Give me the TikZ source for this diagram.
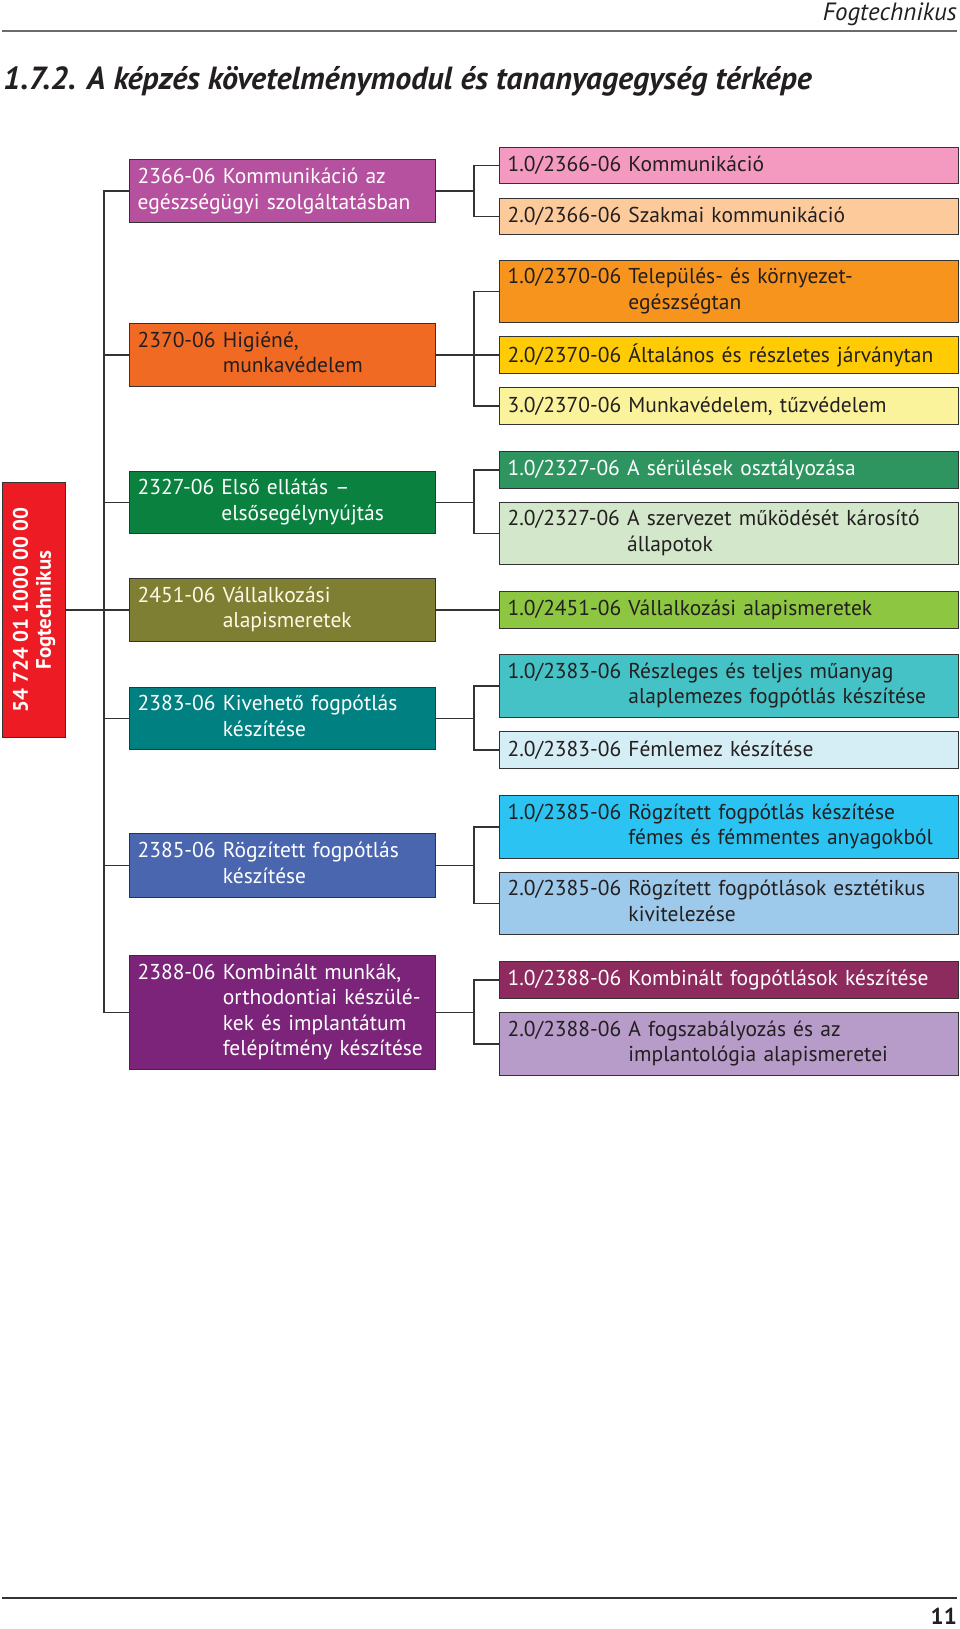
\documentclass[tikz,border=0pt]{standalone}
\usepackage{fontspec}
\setmainfont{PT Sans}
\definecolor{linec}{HTML}{333333}
\definecolor{txt}{HTML}{231F20}
\definecolor{cLa}{HTML}{B6519F}
\definecolor{cLb}{HTML}{F06A24}
\definecolor{cLc}{HTML}{0B8140}
\definecolor{cLd}{HTML}{7F7F34}
\definecolor{cLe}{HTML}{008080}
\definecolor{cLf}{HTML}{4A66AF}
\definecolor{cLg}{HTML}{7B2479}
\definecolor{cRed}{HTML}{ED1C24}
\definecolor{cAa}{HTML}{F49AC1}
\definecolor{cAb}{HTML}{FDCB9B}
\definecolor{cBa}{HTML}{F7941E}
\definecolor{cBb}{HTML}{FFCB05}
\definecolor{cBc}{HTML}{FBF39C}
\definecolor{cCa}{HTML}{2E9560}
\definecolor{cCb}{HTML}{D3E7CA}
\definecolor{cDa}{HTML}{8DC641}
\definecolor{cEa}{HTML}{44C2C6}
\definecolor{cEb}{HTML}{D5EDF4}
\definecolor{cFa}{HTML}{2BC4F2}
\definecolor{cFb}{HTML}{9DC9EA}
\definecolor{cGa}{HTML}{8D2B5E}
\definecolor{cGb}{HTML}{B79BC9}
\definecolor{cream}{HTML}{FFFBE6}
\newcommand\boxfont{\fontsize{21.5}{25.5}\selectfont}
\newcommand\hangtwo[3]{\begin{tabular}{@{}l@{\ }l@{}}#1&#2\\&#3\end{tabular}}
\tikzset{
  bx/.style={draw=linec, line width=1.2pt, anchor=north west, inner xsep=8pt, inner ysep=0pt, align=left, font=\boxfont, text=txt},
  lbox/.style={bx, minimum width=306pt, text width=290pt},
  rbox/.style={bx, minimum width=459pt, text width=443pt},
  conn/.style={draw=linec, line width=1.3pt},
}
\begin{document}
\begin{tikzpicture}[x=1pt,y=-1pt]
\useasboundingbox (0,0) rectangle (960,1629);
% header
\node[anchor=base east, inner sep=0, font=\fontsize{25}{28}\selectfont\itshape, text=txt] (hdr) at (957,21) {Fogtechnikus};
\draw[draw=black!58, line width=2pt] (2,31) coordinate (hl) -- (957,31) coordinate (hr);
\node[anchor=base west, inner sep=0, text=txt] (title) at (3,90) {\fontsize{32}{38}\selectfont\bfseries\itshape 1.7.2. A képzés követelménymodul és tananyagegység térképe};
% footer
\draw[draw=linec, line width=1.5pt] (2,1598) coordinate (fl) -- (957,1598) coordinate (fr);
\node[anchor=base east, inner sep=0, font=\fontsize{23}{26}\selectfont\bfseries, text=txt] (pg) at (957,1624) {11};

% red box
\node[draw=linec, line width=1.2pt, fill=cRed, anchor=north west, minimum width=63pt, minimum height=255pt, inner sep=0] (R) at (2,482) {};
\node[rotate=90, align=center, text=white, font=\fontsize{21}{23}\selectfont\bfseries, inner sep=0] (Rt) at (R.center) {54 724 01 1000 00 00\\Fogtechnikus};

% left boxes
\node[lbox, fill=cLa, minimum height=63pt, text=white] (L1) at (129,159) {2366-06 Kommunikáció az\\egészségügyi szolgáltatásban};
\node[lbox, fill=cLb, minimum height=63pt] (L2) at (129,323) {\hangtwo{2370-06}{Higiéné,}{munkavédelem}};
\node[lbox, fill=cLc, minimum height=62pt, text=white] (L3) at (129,471) {\hangtwo{2327-06}{Első ellátás –}{elsősegélynyújtás}};
\node[lbox, fill=cLd, minimum height=63pt, text=cream] (L4) at (129,578) {\hangtwo{2451-06}{Vállalkozási}{alapismeretek}};
\node[lbox, fill=cLe, minimum height=62pt, text=white] (L5) at (129,687) {\hangtwo{2383-06}{Kivehető fogpótlás}{készítése}};
\node[lbox, fill=cLf, minimum height=64pt, text=white] (L6) at (129,833) {\hangtwo{2385-06}{Rögzített fogpótlás}{készítése}};
\node[lbox, fill=cLg, minimum height=114pt, text=white] (L7) at (129,955) {\begin{tabular}{@{}l@{\ }l@{}}2388-06&Kombinált munkák,\\&orthodontiai készülé-\\&kek és implantátum\\&felépítmény készítése\end{tabular}};

% right boxes
\node[rbox, fill=cAa, minimum height=36pt] (A1) at (499,147) {1.0/2366-06 Kommunikáció};
\node[rbox, fill=cAb, minimum height=36pt] (A2) at (499,198) {2.0/2366-06 Szakmai kommunikáció};
\node[rbox, fill=cBa, minimum height=62pt] (B1) at (499,260) {\hangtwo{1.0/2370-06}{Település- és környezet-}{egészségtan}};
\node[rbox, fill=cBb, minimum height=37pt] (B2) at (499,336) {2.0/2370-06 Általános és részletes járványtan};
\node[rbox, fill=cBc, minimum height=37pt] (B3) at (499,387) {3.0/2370-06 Munkavédelem, tűzvédelem};
\node[rbox, fill=cCa, minimum height=37pt, text=white] (C1) at (499,451) {1.0/2327-06 A sérülések osztályozása};
\node[rbox, fill=cCb, minimum height=62pt] (C2) at (499,502) {\hangtwo{2.0/2327-06}{A szervezet működését károsító}{állapotok}};
\node[rbox, fill=cDa, minimum height=37pt] (D1) at (499,591) {1.0/2451-06 Vállalkozási alapismeretek};
\node[rbox, fill=cEa, minimum height=63pt] (E1) at (499,654) {\hangtwo{1.0/2383-06}{Részleges és teljes műanyag}{alaplemezes fogpótlás készítése}};
\node[rbox, fill=cEb, minimum height=37pt] (E2) at (499,731) {2.0/2383-06 Fémlemez készítése};
\node[rbox, fill=cFa, minimum height=63pt] (F1) at (499,795) {\hangtwo{1.0/2385-06}{Rögzített fogpótlás készítése}{fémes és fémmentes anyagokból}};
\node[rbox, fill=cFb, minimum height=62pt] (F2) at (499,872) {\hangtwo{2.0/2385-06}{Rögzített fogpótlások esztétikus}{kivitelezése}};
\node[rbox, fill=cGa, minimum height=37pt, text=white] (G1) at (499,961) {1.0/2388-06 Kombinált fogpótlások készítése};
\node[rbox, fill=cGb, minimum height=63pt] (G2) at (499,1012) {\hangtwo{2.0/2388-06}{A fogszabályozás és az}{implantológia alapismeretei}};

% trunk
\coordinate (tx) at (104,0);
\coordinate (bx) at (474,0);
\draw[conn] (L1.west) -- (L1.west -| tx) -- (L7.west -| tx) -- (L7.west);
\foreach \n in {L2,L3,L4,L5,L6} \draw[conn] (\n.west) -- (\n.west -| tx);
\draw[conn] (R.east) -- (R.east -| tx);

% brackets
\draw[conn] (L1.east) -- (L1.east -| bx);
\draw[conn] (A1.west) -- (A1.west -| bx) -- (A2.west -| bx) -- (A2.west);
\draw[conn] (L2.east) -- (B2.west);
\draw[conn] (B1.west) -- (B1.west -| bx) -- (B3.west -| bx) -- (B3.west);
\draw[conn] (L3.east) -- (L3.east -| bx);
\draw[conn] (C1.west) -- (C1.west -| bx) -- (C2.west -| bx) -- (C2.west);
\draw[conn] (L4.east) -- (D1.west);
\draw[conn] (L5.east) -- (L5.east -| bx);
\draw[conn] (E1.west) -- (E1.west -| bx) -- (E2.west -| bx) -- (E2.west);
\draw[conn] (L6.east) -- (L6.east -| bx);
\draw[conn] (F1.west) -- (F1.west -| bx) -- (F2.west -| bx) -- (F2.west);
\draw[conn] (L7.east) -- (L7.east -| bx);
\draw[conn] (G1.west) -- (G1.west -| bx) -- (G2.west -| bx) -- (G2.west);
\end{tikzpicture}
\end{document}
